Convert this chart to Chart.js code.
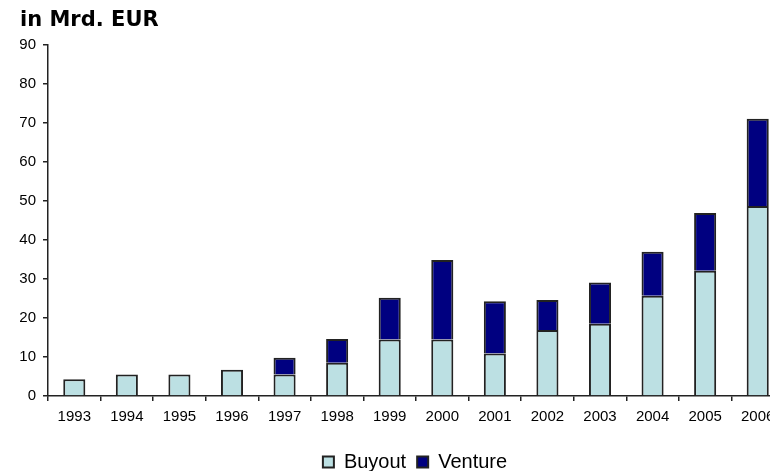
<!DOCTYPE html>
<html>
<head>
<meta charset="utf-8">
<script src="https://cdn.jsdelivr.net/npm/chart.js@4/dist/chart.umd.min.js"></script>
<style>
  html, body { margin: 0; padding: 0; background: #fff; overflow: hidden; }
  #wrap { width: 830px; height: 482px; }
</style>
</head>
<body>
<div id="wrap"><canvas id="c" width="830" height="482"></canvas></div>
<script>
// Private equity investment volume, in billions of EUR
const years = ['1993','1994','1995','1996','1997','1998','1999','2000','2001','2002','2003','2004','2005','2006'];
const buyout  = [4.3, 5.5, 5.5, 6.7, 5.5, 8.5, 14.5, 14.5, 10.9, 16.9, 18.5, 25.7, 32.1, 48.7];
const venture = [0, 0, 0, 0, 4.3, 6.1, 10.7, 20.4, 13.4, 7.7, 10.6, 11.3, 14.8, 22.4];
const yTitle = 'in Mrd. EUR';

const tickFont = { family: 'Liberation Sans, Arial, sans-serif', size: 15 };

// Unit caption above the value axis
const captionPlugin = {
  id: 'caption',
  afterDraw(chart) {
    const ctx = chart.ctx;
    ctx.save();
    ctx.font = 'bold 21px "DejaVu Sans", Verdana, sans-serif';
    ctx.fillStyle = '#000';
    ctx.textBaseline = 'middle';
    ctx.textAlign = 'left';
    ctx.fillText(yTitle, 20, 21);
    ctx.restore();
  }
};

new Chart(document.getElementById('c'), {
  type: 'bar',
  data: {
    labels: years,
    datasets: [
      {
        label: 'Buyout',
        data: buyout,
        backgroundColor: '#BCE0E3',
        borderColor: '#222',
        borderWidth: 2
      },
      {
        label: 'Venture',
        data: venture,
        backgroundColor: '#000080',
        borderColor: '#222',
        borderWidth: 2
      }
    ]
  },
  options: {
    responsive: false,
    animation: false,
    layout: { padding: { top: 45, left: 0, right: 0, bottom: 0 } },
    datasets: { bar: { categoryPercentage: 1.0, barPercentage: 0.42 } },
    scales: {
      x: {
        stacked: true,
        afterFit(s) { s.height = 45; },
        grid: { display: true, offset: true, drawOnChartArea: false, drawTicks: true, tickLength: 5, color: '#222', lineWidth: 1.5 },
        border: { display: true, color: '#222', width: 1.5 },
        ticks: { color: '#000', font: tickFont, padding: 7, maxRotation: 0, autoSkip: false }
      },
      y: {
        stacked: true,
        min: 0,
        max: 90,
        afterFit(s) { s.width = 48; },
        grid: { display: true, drawOnChartArea: false, drawTicks: true, tickLength: 5, color: '#222', lineWidth: 1.5 },
        border: { display: true, color: '#222', width: 1.5 },
        ticks: { stepSize: 10, color: '#000', font: tickFont, padding: 7 }
      },
      // empty right-hand margin between the plot and the canvas edge
      margin: {
        axis: 'y',
        position: 'right',
        display: true,
        afterFit(s) { s.width = 46; },
        grid: { display: false },
        border: { display: false },
        ticks: { display: false }
      }
    },
    plugins: {
      legend: {
        position: 'bottom',
        labels: {
          color: '#000',
          font: { family: 'Liberation Sans, Arial, sans-serif', size: 20 },
          boxWidth: 11,
          boxHeight: 11,
          padding: 11
        }
      },
      tooltip: { enabled: false }
    }
  },
  plugins: [captionPlugin]
});
</script>
</body>
</html>
